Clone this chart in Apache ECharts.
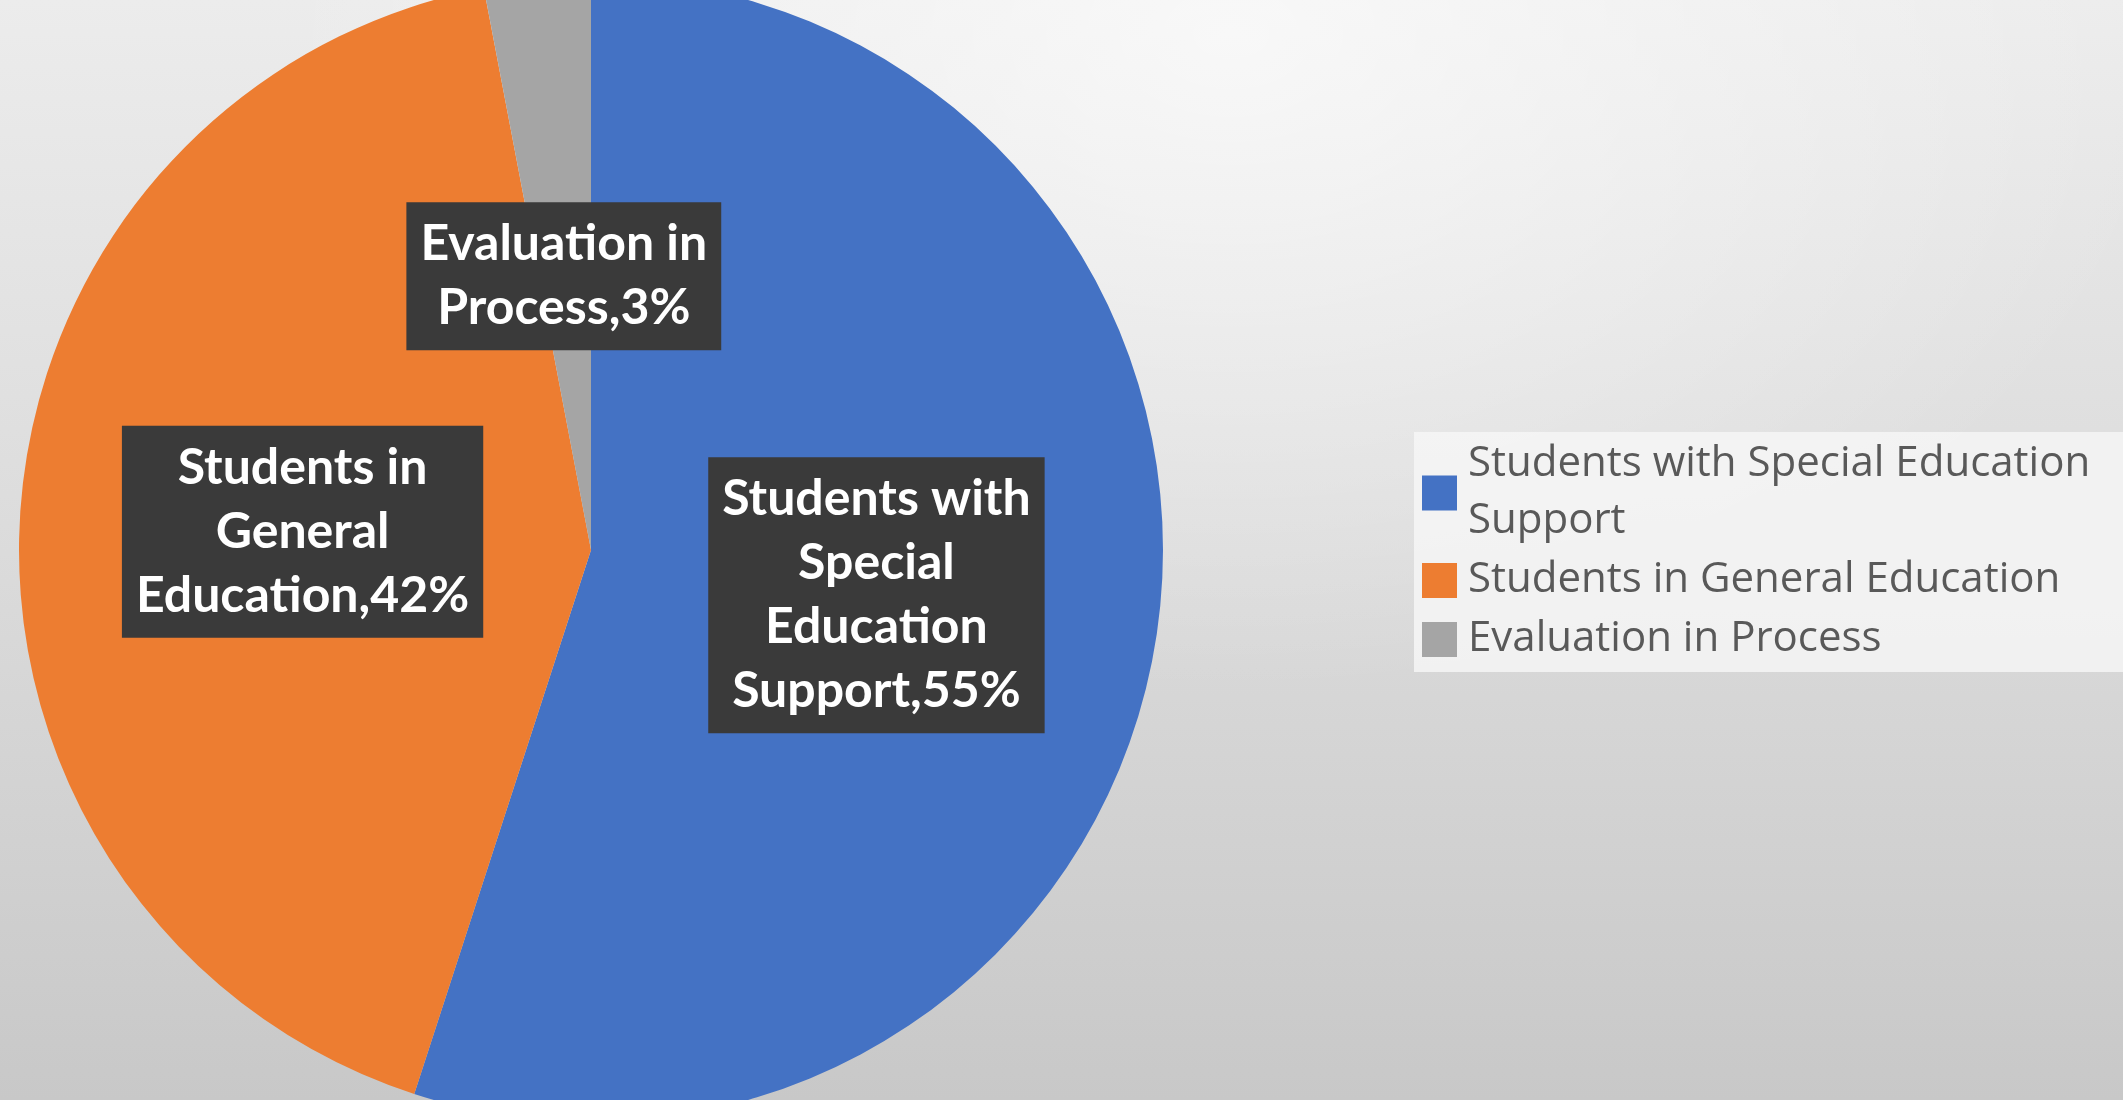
<!DOCTYPE html>
<html>
<head>
<meta charset="utf-8">
<script src="https://cdn.jsdelivr.net/npm/echarts@6/dist/echarts.min.js"></script>
<style>
  html, body { margin: 0; padding: 0; width: 2123px; height: 1100px; overflow: hidden; }
  body {
    background:
      radial-gradient(ellipse 45% 60% at 58% 3%, rgba(255,255,255,0.65) 0%, rgba(255,255,255,0) 100%),
      linear-gradient(to bottom, #ececec 0%, #dddddd 45%, #c8c8c8 100%);
  }
  #chart { width: 2123px; height: 1100px; }
</style>
</head>
<body>
<div id="chart"></div>
<script>
const categories = [
  'Students with Special Education Support',
  'Students in General Education',
  'Evaluation in Process'
];
const shares = [55, 42, 3];
const labelLines = [
  'Students with\nSpecial\nEducation\nSupport',
  'Students in\nGeneral\nEducation',
  'Evaluation in\nProcess'
];
const colors = ['#4472C4', '#ED7D31', '#A5A5A5'];

const chart = echarts.init(document.getElementById('chart'));
chart.setOption({
  animation: false,
  backgroundColor: 'transparent',
  color: colors,
  legend: {
    orient: 'vertical',
    left: 1414,
    top: 432,
    padding: [4, 10, 4, 8],
    itemGap: 2,
    itemWidth: 35,
    itemHeight: 35,
    icon: 'rect',
    backgroundColor: 'rgba(246,246,246,0.85)',
    data: categories,
    textStyle: {
      fontFamily: 'Open Sans',
      fontSize: 42,
      lineHeight: 57,
      color: '#595959',
      width: 660,
      overflow: 'break',
      padding: [0, 0, 0, 6]
    }
  },
  series: [{
    type: 'pie',
    center: [591, 550],
    radius: 572,
    startAngle: 90,
    clockwise: true,
    silent: true,
    emphasis: { disabled: true },
    label: {
      show: true,
      position: 'inside',
      formatter: p => labelLines[p.dataIndex] + ',' + p.value + '%',
      fontFamily: 'Lato',
      fontWeight: 'bold',
      fontSize: 50,
      lineHeight: 64,
      color: '#ffffff',
      align: 'center',
      backgroundColor: '#3a3a3a',
      padding: [10, 14, 10, 14]
    },
    labelLayout: p => (p.dataIndex === 2 ? { dy: 14 } : {}),
    labelLine: { show: false },
    itemStyle: { borderWidth: 0 },
    data: categories.map((c, i) => ({ name: c, value: shares[i] }))
  }]
});
</script>
</body>
</html>
